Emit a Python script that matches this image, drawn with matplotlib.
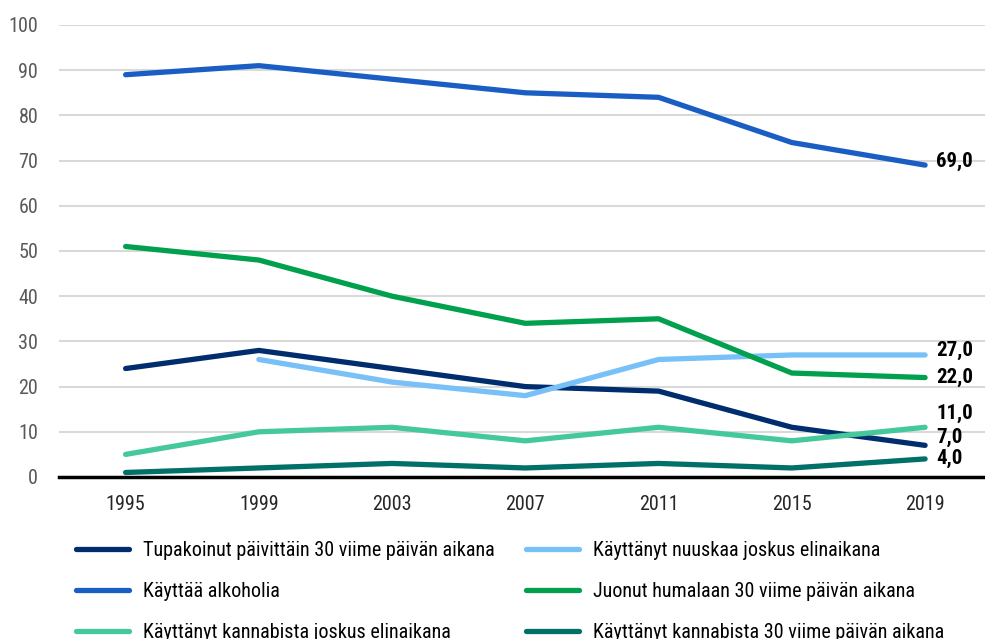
import matplotlib
matplotlib.use("Agg")
import matplotlib.pyplot as plt
from matplotlib import font_manager

years = ["1995", "1999", "2003", "2007", "2011", "2015", "2019"]
tupakka = [24, 28, 24, 20, 19, 11, 7]
nuuska = [None, 26, 21, 18, 26, 27, 27]
alkoholi = [89, 91, 88, 85, 84, 74, 69]
humala = [51, 48, 40, 34, 35, 23, 22]
kannabis_elin = [5, 10, 11, 8, 11, 8, 11]
kannabis_30 = [1, 2, 3, 2, 3, 2, 4]

names = {
    "tupakka": "Tupakoinut päivittäin 30 viime päivän aikana",
    "nuuska": "Käyttänyt nuuskaa joskus elinaikana",
    "alkoholi": "Käyttää alkoholia",
    "humala": "Juonut humalaan 30 viime päivän aikana",
    "kannabis_elin": "Käyttänyt kannabista joskus elinaikana",
    "kannabis_30": "Käyttänyt kannabista 30 viime päivän aikana",
}
colors = {
    "tupakka": "#002d6e",
    "nuuska": "#78c0f8",
    "alkoholi": "#1a5ec4",
    "humala": "#00a04e",
    "kannabis_elin": "#45c99a",
    "kannabis_30": "#007069",
}
series = {
    "tupakka": tupakka,
    "nuuska": nuuska,
    "alkoholi": alkoholi,
    "humala": humala,
    "kannabis_elin": kannabis_elin,
    "kannabis_30": kannabis_30,
}

entries = font_manager.fontManager.ttflist
avail = {f.name for f in entries}
cands = ["Liberation Sans Narrow", "Roboto Condensed", "Open Sans Condensed",
         "Noto Sans Condensed", "Arial Narrow", "DejaVu Sans Condensed"]
fam = None
for c in cands:
    if c in avail:
        fam = c
        break
stretch = "normal"
size = 14.5
if fam is None:
    cond = [f for f in entries if f.stretch in ("condensed", "semi-condensed", "extra-condensed")
            or (isinstance(f.stretch, int) and f.stretch < 500)]
    if cond:
        fam = cond[0].name
        stretch = "condensed"
    else:
        fam = "Liberation Sans"
        size = 12.5
plt.rcParams["font.family"] = [fam, "DejaVu Sans"]
plt.rcParams["font.stretch"] = stretch

fig = plt.figure(figsize=(9.85, 6.39), dpi=100)
ax = fig.add_axes([59 / 985, 162 / 639, (991.7 - 59) / 985, 452 / 639])

x = list(range(len(years)))
lines = {}
for key, vals in series.items():
    xs = [xi for xi, v in zip(x, vals) if v is not None]
    ys = [v for v in vals if v is not None]
    (ln,) = ax.plot(xs, ys, color=colors[key], lw=3.8, solid_capstyle="round",
                    label=names[key], zorder=3)
    lines[key] = ln

ax.set_xlim(-0.5, 6.5)
ax.set_ylim(0, 100)
ax.set_yticks(range(0, 101, 10))
ax.set_xticks(x)
ax.set_xticklabels(years)
ax.grid(axis="y", color="#d9d9d9", lw=1.5, zorder=0)
for s in ["top", "right", "left"]:
    ax.spines[s].set_visible(False)
ax.spines["bottom"].set_color("black")
ax.spines["bottom"].set_linewidth(2.5)
ax.spines["bottom"].set_zorder(4)
ax.tick_params(axis="y", length=0, labelsize=size, labelcolor="#595959", pad=15)
ax.tick_params(axis="x", length=0, labelsize=size, labelcolor="#262626", pad=13)

offsets = {"alkoholi": 3, "nuuska": 3, "humala": 0, "kannabis_elin": 10, "tupakka": 6, "kannabis_30": 0}
for key, vals in series.items():
    v = vals[-1]
    ax.annotate(f"{v:.1f}".replace(".", ","), (6, v), xytext=(8, offsets[key]),
                textcoords="offset points", ha="left", va="center",
                fontsize=15, fontweight="bold", color="black", annotation_clip=False)

col1 = ["tupakka", "alkoholi", "kannabis_elin"]
col2 = ["nuuska", "humala", "kannabis_30"]
for cols, xpos in [(col1, 82), (col2, 532)]:
    leg = fig.legend([lines[k] for k in cols], [names[k] for k in cols],
                     loc="upper left", bbox_to_anchor=(xpos / 985 - 0.012, 1 - 535 / 639),
                     frameon=False, fontsize=size, handlelength=2.6, handletextpad=0.7,
                     labelspacing=1.1, borderaxespad=0, borderpad=0.3)
    for t in leg.get_texts():
        t.set_color("black")

fig.savefig("out.png", dpi=100)
